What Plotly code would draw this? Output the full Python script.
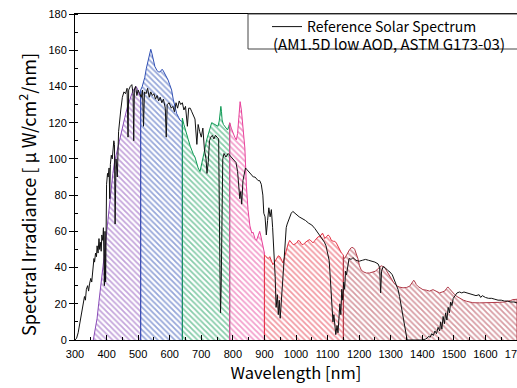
import plotly.graph_objects as go

# ---------------- data ----------------
ref_wl = [300, 305, 310, 315, 320, 325, 330, 333, 336, 340, 343, 346, 350, 353, 356, 360, 362, 365, 368, 370,
          373, 376, 378, 380, 383, 385, 388, 390, 393, 395, 397, 400, 403, 405, 408, 410, 412, 415, 418, 420,
          423, 425, 427, 430, 434, 438, 440, 445, 450, 455, 460, 465, 468, 470, 475, 480, 484, 486, 488, 492,
          496, 500, 505, 510, 514, 517, 520, 525, 530, 535, 540, 545, 550, 555, 560, 565, 570, 575, 580, 586,
          589, 592, 598, 605, 610, 615, 620, 625, 630, 635, 640, 645, 650, 656, 660, 665, 670, 675, 680, 686,
          690, 695, 700, 705, 710, 715, 718, 722, 726, 730, 735, 740, 745, 750, 755, 759, 761, 763, 765, 768,
          772, 778, 785, 790, 795, 800, 805, 810, 815, 818, 822, 825, 828, 832, 836, 840, 845, 850, 855, 860,
          865, 870, 875, 880, 885, 890, 895, 898, 902, 906, 910, 914, 918, 922, 926, 930, 934, 937, 941, 944,
          947, 950, 953, 956, 960, 963, 966, 969, 972, 976, 980, 985, 990, 995, 1000, 1010, 1020, 1030, 1040, 1050,
          1060, 1070, 1080, 1090, 1095, 1100, 1105, 1108, 1111, 1114, 1117, 1120, 1123, 1126, 1130, 1133, 1136, 1139, 1142, 1145,
          1148, 1151, 1154, 1157, 1160, 1164, 1168, 1175, 1180, 1190, 1200, 1210, 1220, 1230, 1240, 1250, 1260, 1265, 1268, 1271,
          1276, 1282, 1290, 1298, 1305, 1312, 1318, 1323, 1328, 1332, 1336, 1340, 1344, 1348, 1352, 1360, 1380, 1400, 1410, 1415,
          1420, 1425, 1430, 1435, 1440, 1445, 1450, 1455, 1458, 1462, 1466, 1470, 1474, 1478, 1482, 1486, 1490, 1494, 1498, 1505,
          1510, 1518, 1525, 1532, 1540, 1550, 1560, 1570, 1580, 1585, 1590, 1600, 1610, 1620, 1630, 1640, 1650, 1660, 1670, 1680,
          1690, 1700]
ref_val = [0, 1, 4, 9, 14, 20, 24, 22, 28, 30, 27, 31, 34, 32, 40, 45, 43, 48, 46, 52,
           48, 56, 50, 54, 49, 58, 55, 62, 30, 60, 32, 86, 92, 90, 95, 78, 97, 102, 100, 105,
           110, 108, 64, 100, 90, 115, 120, 127, 134, 137, 136, 139, 112, 138, 140, 141, 136, 110, 138, 140,
           135, 138, 136, 134, 138, 118, 137, 136, 139, 134, 137, 135, 136, 133, 135, 132, 134, 131, 133, 128,
           112, 130, 131, 128, 129, 126, 131, 128, 132, 130, 131, 127, 129, 118, 128, 128, 126, 124, 122, 108,
           119, 115, 112, 117, 105, 100, 92, 98, 110, 112, 113, 111, 113, 112, 111, 40, 15, 30, 80, 100,
           103, 101, 103, 102, 101, 100, 99, 98, 93, 85, 78, 82, 75, 88, 92, 95, 94, 93, 92, 91,
           90, 90, 89, 88, 88, 86, 80, 70, 68, 58, 66, 73, 68, 72, 62, 50, 35, 18, 25, 14,
           22, 12, 20, 28, 38, 48, 55, 62, 64, 66, 68, 70, 71, 70, 69.5, 68, 67, 66, 64.5, 63.5,
           61.5, 59, 57, 54, 52, 48, 44, 36, 28, 20, 10, 14, 6, 3, 8, 4, 12, 20, 14, 28,
           22, 32, 28, 38, 36, 42, 45, 44.5, 45.5, 44, 43.5, 44, 44.5, 44, 43.5, 43, 42, 40, 26, 38,
           40.5, 40, 38.5, 37.5, 36, 33, 30, 28, 24, 20, 15, 10, 6, 2, 0, 0, 0, 0, 0.5, 1,
           2, 1.5, 3.5, 2.5, 5, 3.5, 7, 5, 10, 6, 13, 9, 15, 11, 18, 15, 21, 19, 23, 25,
           26, 26.5, 26, 26.5, 26, 25.5, 25, 24.5, 25, 23.5, 24.5, 23.5, 23, 23, 22.5, 22, 22, 21.5, 21.5, 21,
           21, 20.5]

purple_wl = [358, 365, 370, 375, 380, 385, 390, 395, 400, 405, 410, 415, 420, 425, 430, 437, 443, 448, 453, 458,
             465, 470, 474, 480, 485, 490, 493, 497, 500, 505, 508, 508]
purple_val = [0, 6, 12, 20, 27, 34, 41, 50, 59, 68, 77, 85, 92, 98, 102, 107, 112, 116, 120, 123,
              128, 131, 133, 136, 138, 139.5, 140, 139, 137, 135, 134, 0]

blue_wl = [508, 508, 513, 518, 521, 526, 532, 536, 540, 544, 548, 553, 559, 564, 569, 573, 576, 580, 585, 590,
           595, 600, 606, 611, 616, 622, 628, 632, 636, 640, 640]
blue_val = [0, 138, 140, 143, 145, 150, 155, 158, 160.5, 158, 154, 151, 149, 148, 148, 149, 149.5, 148.5, 147, 145,
            143.5, 141, 138, 133, 129, 125, 123, 121.5, 121, 120.5, 0]

green_wl = [640, 640, 645, 650, 655, 659, 665, 670, 675, 680, 685, 690, 696, 700, 706, 712, 717, 722, 727, 733,
            738, 743, 748, 753, 757, 760, 762, 764, 766, 770, 775, 780, 783, 787, 790, 790]
green_val = [0, 122.5, 119, 115.5, 112.5, 110.5, 107, 104.5, 102.5, 101, 98, 95, 93, 96, 101, 106, 110.5, 114, 117, 120,
             119.5, 119, 118.5, 118, 121, 126, 129, 126, 121.5, 119, 118, 116.5, 116, 118, 119.7, 0]

pink_wl = [790, 790, 795, 801, 806, 811, 815, 819, 823, 827, 830, 833, 838, 843, 848, 854, 860, 864, 870, 875,
           880, 885, 888, 891, 895, 900, 900]
pink_val = [0, 120, 117, 114, 112, 110.5, 114, 123, 131.6, 127, 120, 114, 106, 85, 72, 63, 59, 59.5, 56, 55,
            57, 60, 58, 55, 51, 48, 0]

red_wl = [900, 900, 905, 912, 917, 922, 927, 932, 938, 944, 949, 954, 959, 964, 970, 975, 980, 985, 991, 997,
          1002, 1007, 1012, 1017, 1022, 1027, 1033, 1038, 1044, 1049, 1054, 1060, 1065, 1070, 1075, 1080, 1084, 1088, 1091, 1096,
          1102, 1107, 1112, 1118, 1123, 1128, 1133, 1138, 1144, 1150, 1150]
red_val = [0, 47, 46, 45, 46, 44, 41.6, 43, 45, 46.5, 46, 44, 42.5, 46, 50, 53, 55, 54, 52.6, 53,
           53.6, 55, 54.5, 53, 52.6, 53.5, 54.5, 55, 55.4, 54.5, 53.6, 55, 56, 57, 57, 58.5, 59, 57.5, 56, 57,
           58, 57, 55, 54.5, 54.5, 53.5, 51.7, 50, 48, 47, 0]

dred_wl = [1150, 1150, 1154, 1160, 1165, 1170, 1175, 1181, 1186, 1191, 1196, 1201, 1207, 1215, 1223, 1233, 1244, 1252, 1260, 1265,
           1270, 1276, 1281, 1286, 1291, 1297, 1303, 1310, 1318, 1328, 1339, 1350, 1360, 1365, 1369, 1373, 1377, 1381, 1387, 1395,
           1402, 1413, 1423, 1434, 1445, 1455, 1463, 1471, 1477, 1481, 1485, 1492, 1503, 1510, 1519, 1530, 1540, 1550, 1560, 1582,
           1603, 1624, 1645, 1660, 1670, 1680, 1687, 1695, 1700, 1700]
dred_val = [0, 46, 45, 47, 49, 50, 51, 51, 50, 48, 45, 41, 38.5, 37.5, 37, 37, 37.5, 38, 39.5, 40.5,
            41, 40.5, 40, 38.5, 37, 35, 33, 31.5, 30, 29.2, 28.8, 29, 29.7, 31, 32.5, 33, 32, 30.6, 29.5, 28.5,
            27.8, 27.5, 27, 27.8, 27, 26, 26.5, 27, 28.5, 29.3, 28.5, 27, 25, 24, 23, 22, 21.4, 21, 20.6, 20.5,
            20.5, 20.5, 20.8, 21, 21.3, 21.8, 22.3, 22.5, 22.5, 0]

legend_line1 = "Reference Solar Spectrum"
legend_line2 = "(AM1.5D low AOD, ASTM G173-03)"
x_title = "Wavelength [nm]"
y_title = "Spectral Irradiance [ μ W/cm<sup>2</sup>/nm]"

# ---------------- figure ----------------
W, H = 517, 388
ML, MR, MT, MB = 75, 0, 14, 48
PW, PH = W - ML - MR, H - MT - MB


def px_x(p):
    return (p - ML) / PW


def px_y(p):
    return (H - MB - p) / PH


fig = go.Figure()

segments = [
    (purple_wl, purple_val, "#8a4cb8"),
    (blue_wl, blue_val, "#2f4fb4"),
    (green_wl, green_val, "#0f9a55"),
    (pink_wl, pink_val, "#e8409a"),
    (red_wl, red_val, "#e63446"),
    (dred_wl, dred_val, "#b03a48"),
]
for xs, ys, col in segments:
    fig.add_trace(go.Scatter(
        x=xs, y=ys, mode="lines", line=dict(color=col, width=1),
        fill="tozeroy", fillcolor="rgba(0,0,0,0)",
        fillpattern=dict(shape="\\", fgcolor=col, bgcolor="rgba(255,255,255,0)", size=4, solidity=0.45),
        showlegend=False, hoverinfo="skip"))

fig.add_trace(go.Scatter(x=ref_wl, y=ref_val, mode="lines", line=dict(color="#111111", width=1),
                         name=legend_line1, showlegend=True))

font_jp = "Noto Sans CJK JP"
fig.update_layout(
    width=W, height=H,
    margin=dict(l=ML, r=MR, t=MT, b=MB, autoexpand=False),
    paper_bgcolor="white", plot_bgcolor="white",
    font=dict(family=font_jp, color="black"),
    showlegend=True,
    legend=dict(x=px_x(267), xanchor="left", y=px_y(11), yanchor="top",
                bgcolor="rgba(0,0,0,0)", borderwidth=0,
                font=dict(family=font_jp, size=14, color="black")),
    xaxis=dict(range=[300, 1700], dtick=100, tick0=300, ticks="inside", ticklen=5, tickcolor="black",
               showline=True, linecolor="black", linewidth=1, mirror=True, showgrid=False, zeroline=False,
               minor=dict(dtick=50, ticks="inside", ticklen=3, tickcolor="black"),
               automargin=False, ticklabeloverflow="allow", ticklabelstandoff=4,
               tickfont=dict(family="Liberation Sans", size=11, color="black"),
               title=dict(text=x_title, font=dict(family=font_jp, size=16.5), standoff=8)),
    yaxis=dict(range=[0, 180], dtick=20, ticks="outside", ticklen=5, tickcolor="black",
               showline=True, linecolor="black", linewidth=1, mirror=True, showgrid=False, zeroline=False,
               minor=dict(dtick=10, ticks="inside", ticklen=3, tickcolor="black"),
               automargin=False,
               tickfont=dict(family="Liberation Sans", size=11, color="black")),
    shapes=[dict(type="rect", xref="paper", yref="paper", x0=px_x(248), x1=px_x(530),
                 y0=px_y(49), y1=1.0, line=dict(color="#444", width=1), fillcolor="rgba(0,0,0,0)")],
    annotations=[
        dict(text=legend_line2, xref="paper", yref="paper", x=px_x(271), y=px_y(43),
             xanchor="left", yanchor="middle", showarrow=False,
             font=dict(family=font_jp, size=15, color="black")),
        dict(text=y_title, xref="paper", yref="paper", x=px_x(27), y=px_y(195),
             xanchor="center", yanchor="middle", showarrow=False, textangle=-90,
             font=dict(family=font_jp, size=18, color="black")),
    ],
)

fig.write_html("out.html")
